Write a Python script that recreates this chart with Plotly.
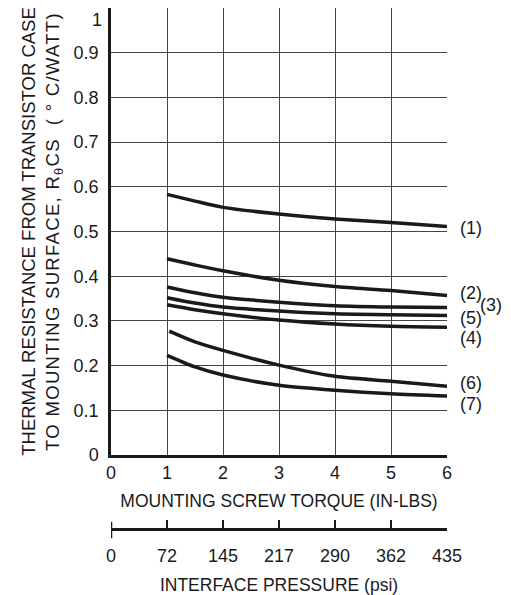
import plotly.graph_objects as go

# ---- data ----
torque = [1, 1.5, 2, 3, 4, 5, 6]
torque_c6 = [1.04, 1.5, 2, 3, 4, 5, 6]
curve1 = [0.583, 0.568, 0.554, 0.539, 0.528, 0.520, 0.511]
curve2 = [0.439, 0.425, 0.412, 0.391, 0.377, 0.368, 0.357]
curve3 = [0.376, 0.363, 0.353, 0.342, 0.334, 0.331, 0.330]
curve5 = [0.352, 0.340, 0.331, 0.322, 0.316, 0.314, 0.312]
curve4 = [0.336, 0.325, 0.316, 0.302, 0.293, 0.288, 0.286]
curve6 = [0.277, 0.253, 0.234, 0.201, 0.176, 0.165, 0.154]
curve7 = [0.223, 0.197, 0.179, 0.156, 0.145, 0.137, 0.132]

torque_ticks = [0, 1, 2, 3, 4, 5, 6]
psi_ticks = [0, 72.5, 145, 217.5, 290, 362.5, 435]
psi_labels = ["0", "72", "145", "217", "290", "362", "435"]
y_ticks = [0, 0.1, 0.2, 0.3, 0.4, 0.5, 0.6, 0.7, 0.8, 0.9, 1]
y_labels = ["0", "0.1", "0.2", "0.3", "0.4", "0.5", "0.6", "0.7", "0.8", "0.9", "1"]

curve_labels = ["(1)", "(2)", "(3)", "(5)", "(4)", "(6)", "(7)"]
label_y = [0.508, 0.362, 0.335, 0.306, 0.262, 0.162, 0.115]
label_x = [1.033, 1.033, 1.092, 1.033, 1.033, 1.033, 1.033]

FONT = "Liberation Sans, Arial, sans-serif"
INK = "#1a1a1a"

fig = go.Figure()
series = [(torque, curve1), (torque, curve2), (torque, curve3), (torque, curve5),
          (torque, curve4), (torque_c6, curve6), (torque, curve7)]
for xs, ys in series:
    fig.add_trace(go.Scatter(x=xs, y=ys, mode="lines",
                             line=dict(color=INK, width=3.5, shape="spline", smoothing=0.8),
                             showlegend=False, hoverinfo="skip"))

# dummy trace to carry the pressure axis
fig.add_trace(go.Scatter(x=[psi_ticks[0], psi_ticks[-1]], y=[None, None], xaxis="x2",
                         mode="lines", showlegend=False, hoverinfo="skip"))

for txt, yy, xx in zip(curve_labels, label_y, label_x):
    fig.add_annotation(text=txt, xref="paper", yref="y", x=xx, y=yy,
                       xanchor="left", yanchor="middle", showarrow=False,
                       font=dict(family=FONT, size=18, color=INK))

# top tick label drawn slightly below the top edge (as in the reference)
fig.add_annotation(text=y_labels[-1], xref="paper", yref="y", x=0, y=y_ticks[-1],
                   xanchor="right", yanchor="top", xshift=-7, yshift=0,
                   showarrow=False, font=dict(family=FONT, size=18, color=INK))

# end cap of the pressure scale
fig.add_shape(type="line", xref="x2", yref="paper", x0=0, x1=0, y0=-0.006, y1=0.025,
              line=dict(color=INK, width=2.5))

fig.update_layout(
    width=503, height=587,
    margin=dict(l=103, r=64, t=0, b=60, autoexpand=False),
    paper_bgcolor="white", plot_bgcolor="white",
    font=dict(family=FONT, size=18, color=INK),
    xaxis=dict(range=[0, 6], tickvals=torque_ticks, showgrid=True, gridcolor="#444",
               gridwidth=1, zeroline=False, showline=True, linecolor=INK, linewidth=2.5,
               ticks="", ticklabelstandoff=0, automargin=False,
               tickfont=dict(size=18),
               title=dict(text="MOUNTING SCREW TORQUE (IN-LBS)", standoff=13,
                          font=dict(size=17.5))),
    yaxis=dict(range=[0, 1], domain=[0.1518, 1], tickvals=y_ticks,
               ticktext=y_labels[:-1] + [""],
               showgrid=True, gridcolor="#444", gridwidth=1, zeroline=False,
               showline=True, linecolor=INK, linewidth=2.5, ticks="", ticklabelstandoff=6,
               automargin=False, tickfont=dict(size=18),
               title=dict(text="THERMAL RESISTANCE FROM TRANSISTOR CASE<br>"
                               "<span style=\"letter-spacing:1.3px\">TO MOUNTING SURFACE, "
                               "R<sub>θ</sub>CS\u00a0\u00a0(\u00a0°\u00a0C/WATT)</span>",
                          standoff=10, font=dict(size=18.5))),
    xaxis2=dict(range=[0, 435], overlaying="x", anchor="free", position=0.0114,
                side="bottom", tickvals=psi_ticks, ticktext=psi_labels,
                showgrid=False, zeroline=False, showline=True, linecolor=INK, linewidth=2.5,
                ticks="inside", ticklen=8, tickwidth=1.5, tickcolor=INK,
                ticklabelstandoff=10, automargin=False, tickfont=dict(size=18),
                title=dict(text="INTERFACE PRESSURE (psi)", standoff=13, font=dict(size=17.5))),
)

fig.write_html("out.html")
